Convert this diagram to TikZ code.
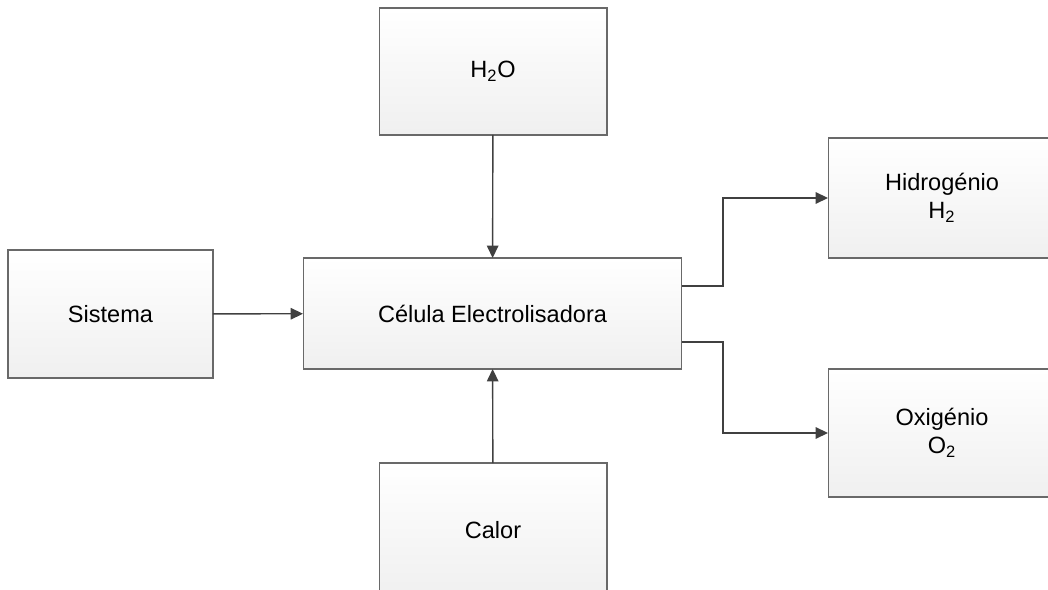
\documentclass[tikz,border=0pt]{standalone}
\usepackage{fontspec}
\setmainfont{Liberation Sans}
\usepackage{xcolor}
\usetikzlibrary{arrows.meta,positioning}
\definecolor{edge}{RGB}{105,105,105}
\definecolor{flowline}{RGB}{64,64,64}

\begin{document}
\begin{tikzpicture}[x=0.02cm,y=-0.02cm,font=\fontsize{13.4}{16.2}\selectfont,
        block/.style={rectangle,draw=edge,line width=0.6pt,top color=white,bottom color=black!6,
          inner sep=0pt,outer sep=0pt,align=center,minimum width=4.56cm,minimum height=2.54cm},
        flow/.style={draw=flowline,line width=0.8pt,-{Triangle[length=7pt,width=6.5pt]}}]
      \clip (0,0) rectangle (1048,590);
      \useasboundingbox (0,0) rectangle (1048,590);
      \node[block] (h2o) at (493,71.5) {H\textsubscript{2}O};
      \node[block,minimum width=4.1cm,minimum height=2.56cm] (sistema) at (110.5,314) {Sistema};
      \node[block,minimum width=7.58cm,minimum height=2.22cm] (celula) at (492.5,313.5) {Célula Electrolisadora};
      \node[block,minimum height=2.4cm] (hidro) at (942,198) {Hidrogénio\\H\textsubscript{2}};
      \node[block,minimum height=2.56cm] (oxi) at (942,433) {Oxigénio\\O\textsubscript{2}};
      \node[block,minimum height=2.68cm] (calor) at (493,530) {Calor};
      \coordinate (h2out) at (682,286);
      \coordinate (o2out) at (682,342);
      \draw[flow] (h2o) -- (celula);
      \draw[flow] (calor) -- (celula);
      \draw[flow] (sistema) -- (celula);
      \draw[flow] (h2out) -- ++(41,0) |- (hidro.west);
      \draw[flow] (o2out) -- ++(41,0) |- (oxi.west);
    \end{tikzpicture}
\end{document}
